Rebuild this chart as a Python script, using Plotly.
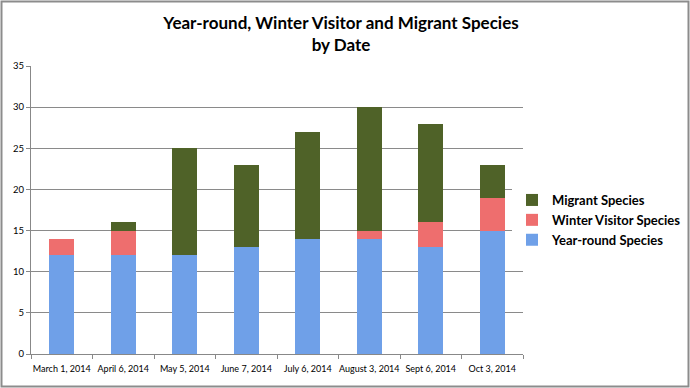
import plotly.graph_objects as go

dates = ["March 1, 2014", "April 6, 2014", "May 5, 2014", "June 7, 2014",
         "July 6, 2014", "August 3, 2014", "Sept 6, 2014", "Oct 3, 2014"]
year_round = [12, 12, 12, 13, 14, 14, 13, 15]
winter_visitor = [2, 3, 0, 0, 0, 1, 3, 4]
migrant = [0, 1, 13, 10, 13, 15, 12, 4]

fig = go.Figure()
fig.add_trace(go.Bar(name="Year-round Species", x=dates, y=year_round,
                     marker=dict(color="#6FA0E8", line=dict(width=0))))
fig.add_trace(go.Bar(name="Winter Visitor Species", x=dates, y=winter_visitor,
                     marker=dict(color="#EE6E6E", line=dict(width=0))))
fig.add_trace(go.Bar(name="Migrant Species", x=dates, y=migrant,
                     marker=dict(color="#4F6228", line=dict(width=0))))

L, R, T, B = 31, 167, 66, 34
W, H = 690, 388
pw, ph = W - L - R, H - T - B

fig.update_layout(
    width=W, height=H,
    barmode="stack", bargap=0.6,
    margin=dict(l=L, r=R, t=T, b=B, autoexpand=False),
    paper_bgcolor="white", plot_bgcolor="white",
    font=dict(family="Lato, Open Sans, sans-serif", color="#000"),
    title=dict(text="<b>Year-round, Winter Visitor and Migrant Species<br>by Date</b>",
               x=(341) / W, xanchor="center", y=1 - 29 / H, yanchor="top",
               font=dict(size=17, family="Lato, sans-serif", color="#000")),
    legend=dict(traceorder="reversed", x=(512 - L) / pw, xanchor="left",
                y=(354 - 220) / ph, yanchor="middle",
                font=dict(size=13, family="Lato, sans-serif", color="#000", weight="bold"),
                itemwidth=30, tracegroupgap=0),
    xaxis=dict(type="category", tickson="boundaries", ticks="outside", ticklen=4,
               tickcolor="#888", showline=True, linecolor="#888", linewidth=1,
               tickangle=0, ticklabelstandoff=6,
               tickfont=dict(size=9, family="Lato, sans-serif", color="#000"),
               showgrid=False),
    yaxis=dict(range=[0, 35], dtick=5, showgrid=True, gridcolor="#8a8a8a", gridwidth=1,
               ticks="outside", ticklen=4, tickcolor="#888", showline=True,
               linecolor="#888", linewidth=1, zeroline=False,
               tickfont=dict(size=9.5, family="Lato, sans-serif", color="#000")),
    shapes=[dict(type="rect", xref="paper", yref="paper",
                 x0=(-L + 1.5) / pw, x1=(W - L - 1.5) / pw,
                 y0=(-B + 1.5) / ph, y1=(H - B - 1.5) / ph,
                 line=dict(color="#8c8c8c", width=2), layer="below")],
)

fig.write_html("out.html", config={"displayModeBar": False},
               post_script="document.body.style.margin='0';document.body.style.overflow='hidden';")
